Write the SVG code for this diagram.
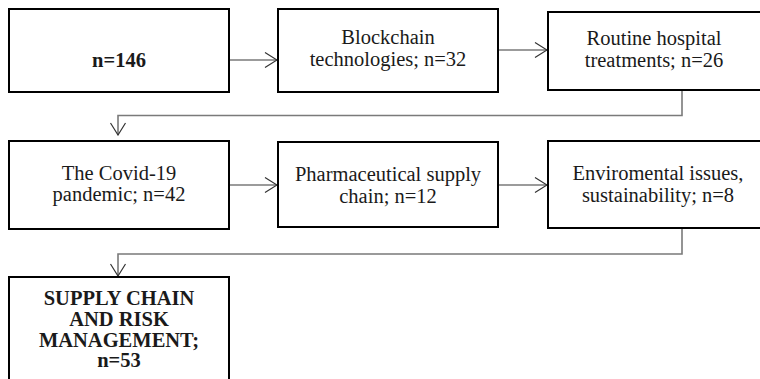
<svg xmlns="http://www.w3.org/2000/svg" width="760" height="379" viewBox="0 0 760 379">
<defs>
<style>
.box{fill:#fff;stroke:#000;stroke-width:2}
text{font-family:'Liberation Serif','DejaVu Serif','Times New Roman',serif;font-size:20.5px;fill:#1a1a1a;text-anchor:middle}
.b{font-weight:bold}
.c{fill:none;stroke:#7a7a7a;stroke-width:1.6}
</style>
<marker id="ah" viewBox="0 0 14 16" refX="13" refY="8" markerWidth="14" markerHeight="16" markerUnits="userSpaceOnUse" orient="auto">
<path d="M1,0.5 L13,8 L1,15.5" fill="none" stroke="#333" stroke-width="1.2"/>
</marker>
</defs>
<rect width="760" height="379" fill="#fff"/>
<g id="connectors">
<path class="c" d="M229,60 H277" marker-end="url(#ah)"/>
<path class="c" d="M498,50 H547" marker-end="url(#ah)"/>
<path class="c" d="M682,90 V115.5 H118 V135" marker-end="url(#ah)"/>
<path class="c" d="M229,185 H277" marker-end="url(#ah)"/>
<path class="c" d="M498,185 H547" marker-end="url(#ah)"/>
<path class="c" d="M682,228 V254 H118 V276" marker-end="url(#ah)"/>
</g>
<g id="n1">
<rect class="box" x="9" y="9" width="220" height="83"/>
<text class="b" x="119" y="67">n=146</text>
</g>
<g id="n2">
<rect class="box" x="278" y="9" width="220" height="83"/>
<text x="388" y="44">Blockchain</text>
<text x="388" y="66">technologies; n=32</text>
</g>
<g id="n3">
<rect class="box" x="548" y="12" width="220" height="78"/>
<text x="654" y="45">Routine hospital</text>
<text x="654" y="67">treatments; n=26</text>
</g>
<g id="n4">
<rect class="box" x="9" y="141" width="220" height="88"/>
<text x="119" y="180">The Covid-19</text>
<text x="119" y="201">pandemic; n=42</text>
</g>
<g id="n5">
<rect class="box" x="278" y="142" width="220" height="85"/>
<text x="388" y="181">Pharmaceutical supply</text>
<text x="388" y="203">chain; n=12</text>
</g>
<g id="n6">
<rect class="box" x="548" y="141" width="220" height="87"/>
<text x="658" y="180">Enviromental issues,</text>
<text x="658" y="202">sustainability; n=8</text>
</g>
<g id="n7">
<rect class="box" x="9" y="277" width="220" height="130"/>
<text class="b" x="119" y="305">SUPPLY CHAIN</text>
<text class="b" x="119" y="326">AND RISK</text>
<text class="b" x="119" y="347">MANAGEMENT;</text>
<text class="b" x="119" y="367">n=53</text>
</g>
</svg>
